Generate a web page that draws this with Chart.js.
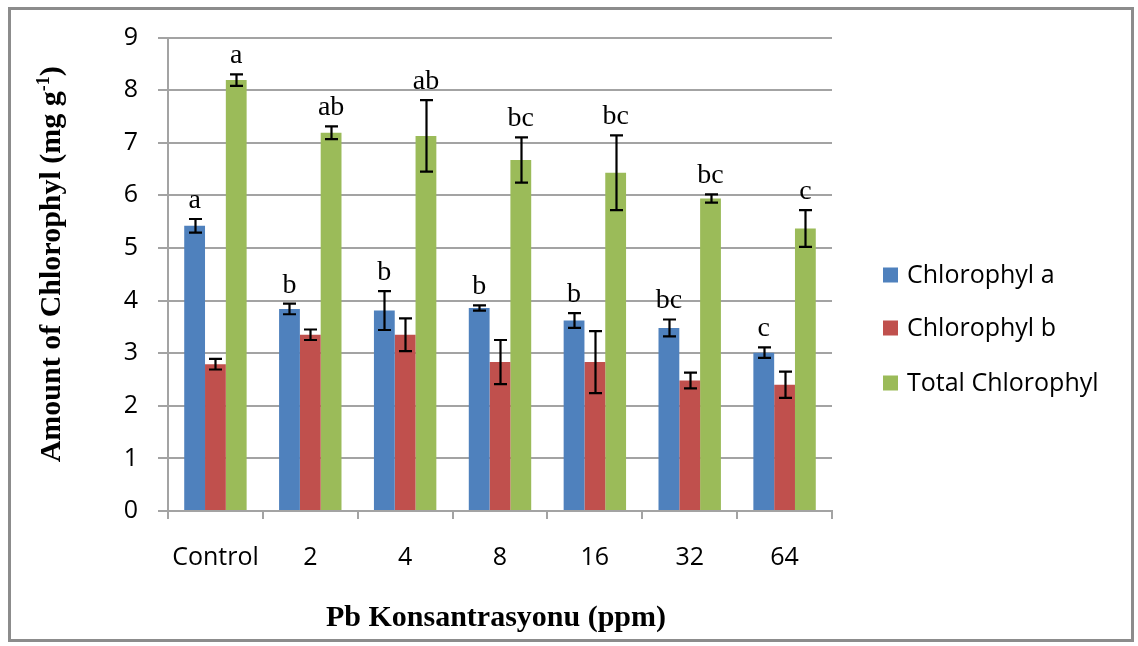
<!DOCTYPE html>
<html>
<head>
<meta charset="utf-8">
<script src="https://cdn.jsdelivr.net/npm/chart.js@4/dist/chart.umd.min.js"></script>
<style>
  html, body { margin: 0; padding: 0; background: #ffffff; }
  #wrap { position: relative; width: 1138px; height: 646px; }
</style>
</head>
<body>
<div id="wrap"><canvas id="c" width="1138" height="646"></canvas></div>
<script>
// Pb concentration groups (ppm)
const categories = ['Control', '2', '4', '8', '16', '32', '64'];

// Mean chlorophyll content (mg g-1) and error (±)
const chlA        = [5.42, 3.84, 3.81, 3.86, 3.62, 3.48, 3.01];
const chlAErr     = [0.13, 0.10, 0.37, 0.05, 0.14, 0.16, 0.10];
const chlB        = [2.79, 3.35, 3.35, 2.83, 2.83, 2.48, 2.40];
const chlBErr     = [0.10, 0.10, 0.31, 0.42, 0.59, 0.15, 0.25];
const chlTotal    = [8.19, 7.19, 7.13, 6.67, 6.43, 5.94, 5.37];
const chlTotalErr = [0.11, 0.12, 0.68, 0.43, 0.71, 0.08, 0.35];

// Significance letters above chlorophyll a and total chlorophyll bars
const lettersA     = ['a', 'b', 'b', 'b', 'b', 'bc', 'c'];
const lettersB     = ['', '', '', '', '', '', ''];
const lettersTotal = ['a', 'ab', 'ab', 'bc', 'bc', 'bc', 'c'];

// Value axis range
const yMin = 0, yMax = 9, yStep = 1;

const seriesNames = ['Chlorophyl a', 'Chlorophyl b', 'Total Chlorophyl'];
const seriesColors = ['#4F81BD', '#C0504D', '#9BBB59'];
const seriesErrors = [chlAErr, chlBErr, chlTotalErr];
const seriesLetters = [lettersA, lettersB, lettersTotal];

const GRID = '#a3a3a3';
const SANS = "'Open Sans', sans-serif";
const SERIF = "'Liberation Serif', 'Times New Roman', serif";

// Outer frame
const framePlugin = {
  id: 'frame',
  beforeDraw(chart) {
    const ctx = chart.ctx;
    ctx.save();
    ctx.strokeStyle = '#8c8c8c';
    ctx.lineWidth = 3;
    ctx.strokeRect(9.5, 8.5, 1123, 632);
    ctx.restore();
  }
};

// Error bars and significance letters, positioned from the bar elements and y scale
const errorPlugin = {
  id: 'errors',
  afterDatasetsDraw(chart) {
    const ctx = chart.ctx;
    const y = chart.scales.y;
    ctx.save();
    chart.data.datasets.forEach((ds, di) => {
      const meta = chart.getDatasetMeta(di);
      const errs = seriesErrors[di];
      const letters = seriesLetters[di];
      meta.data.forEach((bar, i) => {
        const v = ds.data[i];
        const e = errs[i];
        const top = y.getPixelForValue(v + e);
        const bot = y.getPixelForValue(v - e);
        const x = Math.round(bar.x) + 0.5;
        ctx.strokeStyle = '#000';
        ctx.lineWidth = 2.2;
        ctx.beginPath();
        ctx.moveTo(x, top); ctx.lineTo(x, bot);
        ctx.moveTo(x - 6.5, top); ctx.lineTo(x + 6.5, top);
        ctx.moveTo(x - 6.5, bot); ctx.lineTo(x + 6.5, bot);
        ctx.stroke();
        if (letters[i]) {
          ctx.fillStyle = '#000';
          ctx.font = '28px ' + SERIF;
          ctx.textAlign = 'center';
          ctx.textBaseline = 'alphabetic';
          ctx.fillText(letters[i], bar.x, top - 11);
        }
      });
    });
    ctx.restore();
  }
};

// Axis titles and legend
const labelsPlugin = {
  id: 'labels',
  afterDraw(chart) {
    const ctx = chart.ctx;
    const area = chart.chartArea;
    ctx.save();
    ctx.fillStyle = '#000';
    ctx.textBaseline = 'alphabetic';

    // y-axis title with superscript
    ctx.save();
    const cy = (area.top + area.bottom) / 2 - 10;
    ctx.translate(60, cy);
    ctx.rotate(-Math.PI / 2);
    const mainFont = 'bold 30px ' + SERIF;
    const supFont = 'bold 18px ' + SERIF;
    const p1 = 'Amount of Chlorophyl (mg g', p2 = '-1', p3 = ')';
    ctx.font = mainFont; const w1 = ctx.measureText(p1).width; const w3 = ctx.measureText(p3).width;
    ctx.font = supFont; const w2 = ctx.measureText(p2).width;
    let sx = -(w1 + w2 + w3) / 2;
    ctx.textAlign = 'left';
    ctx.font = mainFont; ctx.fillText(p1, sx, 0); sx += w1;
    ctx.font = supFont; ctx.fillText(p2, sx, -11); sx += w2;
    ctx.font = mainFont; ctx.fillText(p3, sx, 0);
    ctx.restore();

    // x-axis title
    ctx.font = 'bold 30px ' + SERIF;
    ctx.textAlign = 'center';
    ctx.fillText('Pb Konsantrasyonu (ppm)', (area.left + area.right) / 2 - 4, 626);

    // legend
    const rows = [275, 328, 383];
    ctx.font = '25px ' + SANS;
    ctx.textAlign = 'left';
    ctx.textBaseline = 'middle';
    chart.data.datasets.forEach((ds, di) => {
      ctx.fillStyle = ds.backgroundColor;
      ctx.fillRect(883, rows[di] - 7.5, 15, 15);
      ctx.fillStyle = '#000';
      ctx.fillText(ds.label, 907, rows[di] + 1);
    });
    ctx.restore();
  }
};

new Chart(document.getElementById('c'), {
  type: 'bar',
  data: {
    labels: categories,
    datasets: [chlA, chlB, chlTotal].map((d, i) => ({
      label: seriesNames[i],
      data: d,
      backgroundColor: seriesColors[i],
      borderWidth: 0,
      categoryPercentage: 0.658,
      barPercentage: 1.0
    }))
  },
  options: {
    responsive: false,
    animation: false,
    devicePixelRatio: 1,
    layout: { padding: { left: 0, right: 306, top: 37.5, bottom: 0 } },
    plugins: { legend: { display: false }, tooltip: { enabled: false } },
    scales: {
      x: {
        offset: true,
        grid: { offset: true, drawOnChartArea: false, drawTicks: true, tickLength: 8, color: GRID, lineWidth: 2 },
        border: { display: true, color: GRID, width: 2 },
        ticks: { font: { family: SANS, size: 25 }, color: '#000', padding: 24, maxRotation: 0 },
        afterFit(s) { s.height = 135; }
      },
      y: {
        min: yMin, max: yMax,
        ticks: { stepSize: yStep, font: { family: SANS, size: 25 }, color: '#000', padding: 20 },
        grid: { color: GRID, lineWidth: 2, tickLength: 10, drawTicks: true },
        border: { display: true, color: GRID, width: 2 },
        afterFit(s) { s.width = 168; }
      }
    }
  },
  plugins: [framePlugin, errorPlugin, labelsPlugin]
});
</script>
</body>
</html>
